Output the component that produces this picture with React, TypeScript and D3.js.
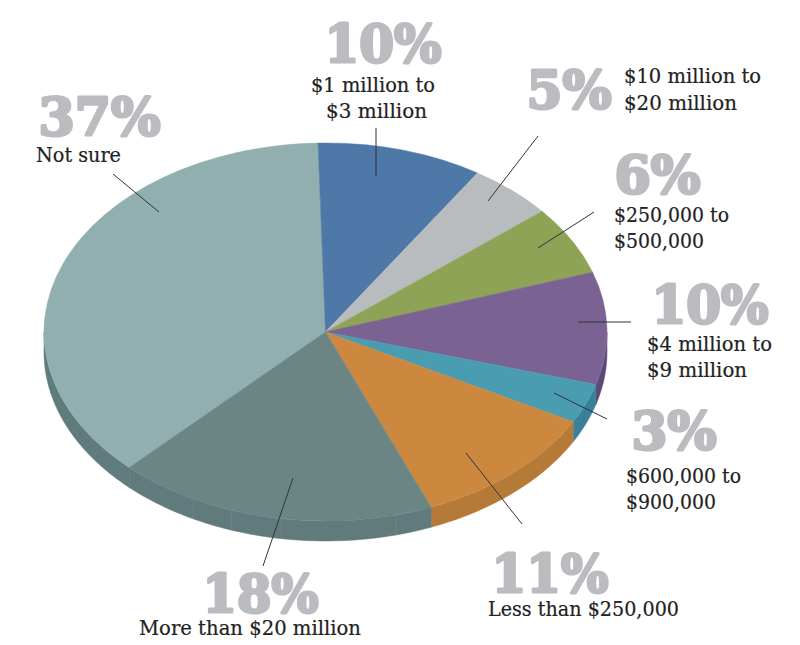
import React from "react";
import * as d3 from "d3";

// Data: category, printed percentage, share
const categories = ["Not sure", "$1 million to $3 million", "$10 million to $20 million", "$250,000 to $500,000", "$4 million to $9 million", "$600,000 to $900,000", "Less than $250,000", "More than $20 million"];
const percentLabels = ["37%", "10%", "5%", "6%", "10%", "3%", "11%", "18%"];
const drawnShares = [37.3, 9.5, 4.9, 5.9, 9.6, 3.4, 11.0, 18.4];
const captionLines = [["Not sure"], ["$1 million to", "$3 million"], ["$10 million to", "$20 million"], ["$250,000 to", "$500,000"], ["$4 million to", "$9 million"], ["$600,000 to", "$900,000"], ["Less than $250,000"], ["More than $20 million"]];
const topColors = ["#92afaf", "#4d78a8", "#b9bcbe", "#8ea356", "#7a6292", "#4a9cb0", "#cd8840", "#6b8585"];
const wallColors = ["#5f7b7c", "#3d6086", "#90939a", "#6f8242", "#5c4978", "#3a8098", "#b57a38", "#617b7c"];

// Layout
const CX = 325.5, CY = 332, RX = 281.5, RY = 189, DEPTH = 20;
const START_DEG = 224.2;
const NUM_STROKE = 3;
const wallSeamDeg = [165.5, 189, 199.5, 208];
const percentPos = [[37, 136, 125], [323, 63, 120], [525, 109, 88], [613, 194, 89], [650, 324, 120], [630, 450, 88], [490, 593, 120], [201, 613, 119]];
const captionPos = [
  [[36, 162, 85]],
  [[311, 92, 124], [326, 118, 101]],
  [[624, 83, 137], [624, 110, 113]],
  [[614, 222, 115], [614, 248, 90]],
  [[647, 351, 125], [647, 377, 100]],
  [[626, 483, 115], [626, 509, 90]],
  [[488, 616, 191]],
  [[139, 635, 222]],
];
const leaders = [[113, 174, 159, 212], [376, 128, 376, 176], [538, 136, 488, 201], [594, 212, 538, 248], [578, 322, 631, 322], [554, 393, 607, 419], [466, 453, 522, 524], [293, 478, 263, 566]];

const rad = (d: number) => (d * Math.PI) / 180;
const px = (a: number) => CX + RX * Math.sin(a);
const py = (a: number) => CY - RY * Math.cos(a);

export default function App() {
  const pie = d3.pie<number>().sort(null).startAngle(rad(START_DEG)).endAngle(rad(START_DEG + 360));
  const slices = pie(drawnShares);
  const arc = d3.arc<d3.PieArcDatum<number>>().innerRadius(0).outerRadius(RX);

  const wallPath = (a0: number, a1: number) => {
    // visible wall: lower half of the ellipse (90deg..270deg)
    const ranges: [number, number][] = [];
    for (const k of [0, 2 * Math.PI]) {
      const s = Math.max(a0, Math.PI / 2 + k), e = Math.min(a1, 1.5 * Math.PI + k);
      if (e > s) ranges.push([s, e]);
    }
    return ranges.map(([s, e]) => {
      const ts = d3.range(0, 61).map((i) => s + ((e - s) * i) / 60);
      const top = ts.map((t) => [px(t), py(t)]);
      const bot = ts.slice().reverse().map((t) => [px(t), py(t) + DEPTH]);
      return d3.line()([...top, ...bot] as [number, number][]) + "Z";
    }).join("");
  };

  return (
    <svg width={800} height={645} viewBox="0 0 800 645" style={{ position: "absolute", left: 0, top: 0, background: "#fff" }}>
      {slices.map((s, i) => (
        <path key={"w" + i} d={wallPath(s.startAngle, s.endAngle)} fill={wallColors[i]} stroke={wallColors[i]} strokeWidth={0.5} />
      ))}
      {wallSeamDeg.map((d) => (
        <line key={d} x1={px(rad(d))} y1={py(rad(d))} x2={px(rad(d))} y2={py(rad(d)) + DEPTH} stroke="#7a9393" strokeWidth={0.8} opacity={0.6} />
      ))}
      <g transform={`translate(${CX},${CY}) scale(1,${RY / RX})`}>
        {slices.map((s, i) => (
          <path key={categories[i]} d={arc(s) as string} fill={topColors[i]} stroke={topColors[i]} strokeWidth={0.6} />
        ))}
      </g>
      {leaders.map((l, i) => (
        <line key={"l" + i} x1={l[0]} y1={l[1]} x2={l[2]} y2={l[3]} stroke="#2f3436" strokeWidth={1} />
      ))}
      {percentLabels.map((p, i) => (
        <text key={"p" + i} x={percentPos[i][0] + NUM_STROKE / 2} y={percentPos[i][1] - NUM_STROKE / 2} textLength={percentPos[i][2] - NUM_STROKE} lengthAdjust="spacingAndGlyphs"
          fontFamily="'DejaVu Serif'" fontWeight={700} fontSize={52} fill="#bbbcc0" stroke="#bbbcc0" strokeWidth={NUM_STROKE} strokeLinejoin="round">{p}</text>
      ))}
      {captionLines.map((lines, i) => lines.map((t, j) => (
        <text key={`c${i}-${j}`} x={captionPos[i][j][0]} y={captionPos[i][j][1]} textLength={captionPos[i][j][2]} lengthAdjust="spacingAndGlyphs"
          fontFamily="'DejaVu Serif'" fontSize={20} fill="#222" stroke="#222" strokeWidth={0.2}>{t}</text>
      )))}
    </svg>
  );
}
